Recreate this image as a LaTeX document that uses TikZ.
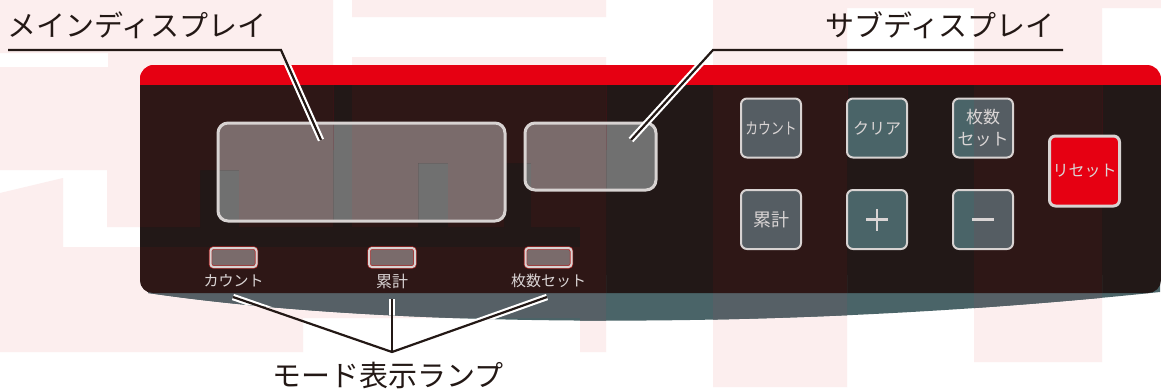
\documentclass[tikz,border=0pt]{standalone}
\usepackage{fontspec}
\setmainfont{Noto Sans CJK JP}
\usetikzlibrary{calc}
\definecolor{pinkbg}{RGB}{252,238,238}
\definecolor{ink}{HTML}{231815}
\definecolor{redband}{HTML}{E60012}
\definecolor{pnlOff}{HTML}{221817}
\definecolor{pnlOn}{HTML}{2E1716}
\definecolor{dispOff}{HTML}{707070}
\definecolor{dispOn}{HTML}{7A6B6B}
\definecolor{lipOff}{HTML}{4A6468}
\definecolor{lipOn}{HTML}{566066}
\definecolor{btnOff}{HTML}{4A6468}
\definecolor{btnOn}{HTML}{555D63}
\definecolor{bord}{HTML}{D8D3D2}
\definecolor{txtl}{HTML}{DAD5D5}
\definecolor{lampred}{HTML}{B02A2A}

\newcommand\onregion{(0,0) rectangle (333,53) (108,53) rectangle (333,67)
  (0,67) rectangle (333,163) (352,0) rectangle (606,17) (352,57) rectangle (606,163)
  (0,163) rectangle (333,170) (352,163) rectangle (418,227) (448,163) rectangle (504,227)
  (531,163) rectangle (606,227) (0,193) -- (63,178) -- (63,227) -- (0,227) -- cycle
  (107,170) rectangle (200,227) (239,170) rectangle (333,227)
  (0,227) rectangle (63,247) (580,227) rectangle (606,247)
  (0,247) rectangle (606,318) (0,318) rectangle (303,352) (580,318) rectangle (606,352)
  (713,0) rectangle (847,387) (974,0) rectangle (1102,362)
  (847,0) rectangle (974,8) (1102,0) rectangle (1161,8)}

\newcommand\panelfill{%
  \fill[lipc] (148,293) .. controls (400,330) and (800,330) .. (1160,292) -- (1160,275) -- (148,275) -- cycle;
  \fill[redband, rounded corners=14] (140,65) rectangle (1161,150);
  \fill[pnlc, rounded corners=13] (140,85) rectangle (1161,293);
  \fill[pnlc] (140,85) rectangle (1161,110);
  \fill[dispc, rounded corners=10] (218,123) rectangle (505,221);
  \fill[dispc, rounded corners=10] (525,123) rectangle (656,190);
  \fill[dispc, rounded corners=3] (210.5,248) rectangle (256.5,267);
  \fill[dispc, rounded corners=3] (369,248) rectangle (415,267);
  \fill[dispc, rounded corners=3] (525.5,248) rectangle (571.5,267);
  \fill[btnc, rounded corners=6] (741,98.5) rectangle (801,157.5);
  \fill[btnc, rounded corners=6] (847,98.5) rectangle (907,157.5);
  \fill[btnc, rounded corners=6] (953,98.5) rectangle (1013,157.5);
  \fill[btnc, rounded corners=6] (741,190) rectangle (801,249);
  \fill[btnc, rounded corners=6] (847,190) rectangle (907,249);
  \fill[btnc, rounded corners=6] (953,190) rectangle (1013,249);
}

\tikzset{
  ttl/.style={font=\fontsize{29}{30}\selectfont, text=ink, inner sep=0},
  lbl/.style={font=\fontsize{15}{16}\selectfont, text=txtl, inner sep=0},
  btn/.style={draw=bord, line width=2, rounded corners=6, minimum width=60, minimum height=59,
    inner sep=0, text=txtl, font=\fontsize{16}{17}\selectfont},
  disp/.style={draw=bord, line width=3, rounded corners=10, inner sep=0},
  lamp/.style={draw=bord, line width=2, rounded corners=3, minimum width=46, minimum height=19,
    inner sep=0, preaction={draw=lampred, line width=3.4}},
  wire/.style={draw=ink, line width=2.2, line join=miter},
  halo/.style={draw=white, line width=6.5},
}

\begin{document}
\begin{tikzpicture}[x=1pt,y=-1pt]
\useasboundingbox (0,0) rectangle (1161,391);
\fill[white] (0,0) rectangle (1161,391);
\fill[pinkbg] \onregion;

% panel, base (off) colours
\colorlet{pnlc}{pnlOff}\colorlet{dispc}{dispOff}\colorlet{lipc}{lipOff}\colorlet{btnc}{btnOff}
\panelfill
% panel, tinted (on) colours
\begin{scope}
  \clip \onregion;
  \colorlet{pnlc}{pnlOn}\colorlet{dispc}{dispOn}\colorlet{lipc}{lipOn}\colorlet{btnc}{btnOn}
  \panelfill
\end{scope}

% displays
\node[disp, minimum width=287, minimum height=98] (maindisp) at (361.5,172) {};
\node[disp, minimum width=131, minimum height=67] (subdisp) at (590.5,156.5) {};

% mode lamps
\node[lamp] (lamp1) at (233.5,257.5) {};
\node[lamp] (lamp2) at (392,257.5) {};
\node[lamp] (lamp3) at (548.5,257.5) {};
\node[lbl] (lbl1) at (233.5,281) {カウント};
\node[lbl, font=\fontsize{16}{17}\selectfont] (lbl2) at (392,281) {累計};
\node[lbl] (lbl3) at (548.5,281) {枚数セット};

% buttons
\node[btn] (bcount) at (771,128) {\scalebox{0.8}[1]{カウント}};
\node[btn] (bclear) at (877,128) {クリア};
\node[btn, align=center, font=\fontsize{17}{22}\selectfont] (bset) at (983,128) {枚数\\セット};
\node[btn, font=\fontsize{18}{19}\selectfont] (bsum) at (771,219.5) {累計};
\node[btn] (bplus) at (877,219.5) {};
\node[btn] (bminus) at (983,219.5) {};
\draw[txtl, line width=2.4] ([xshift=-11pt]bplus.center) -- ([xshift=11pt]bplus.center);
\draw[txtl, line width=2.4] ([yshift=-11pt]bplus.center) -- ([yshift=11pt]bplus.center);
\draw[txtl, line width=3] ([xshift=-11pt]bminus.center) -- ([xshift=11pt]bminus.center);
\node[btn, line width=3, fill=redband, minimum width=70, minimum height=70] (breset) at (1084.5,171) {リセット};

% titles
\node[ttl] (mtitle) at (137,25) {メインディスプレイ};
\node[ttl] (stitle) at (940,25) {サブディスプレイ};
\node[ttl] (ltitle) at (388,375) {モード表示ランプ};

% connector points
\coordinate (m0) at (8,50);
\coordinate (m1) at (281,50);
\coordinate (m2) at (321,140);
\coordinate (s0) at (1063,50);
\coordinate (s1) at (713,50);
\coordinate (s2) at (631,140);
\coordinate (la) at (233,297);
\coordinate (lb) at (392,299);
\coordinate (lc) at (547,297);
\coordinate (lj) at (392,352);

% white casings where the leaders cross the panel
\begin{scope}
  \clip (140,65) -- (1161,65) -- (1161,292) -- (1160,292) .. controls (800,330) and (400,330) .. (148,293) -- (140,293) -- cycle;
  \draw[halo] (m1) -- (m2);
  \draw[halo] (s1) -- (s2);
  \draw[halo] (la) -- (lj) -- (lc);
  \draw[halo] (lb) -- (lj);
\end{scope}

% leaders
\draw[wire] (m0) -- (m1) -- (m2);
\draw[wire] (s0) -- (s1) -- (s2);
\draw[wire] (la) -- (lj) -- (lc);
\draw[wire] (lb) -- (lj);
\end{tikzpicture}
\end{document}
